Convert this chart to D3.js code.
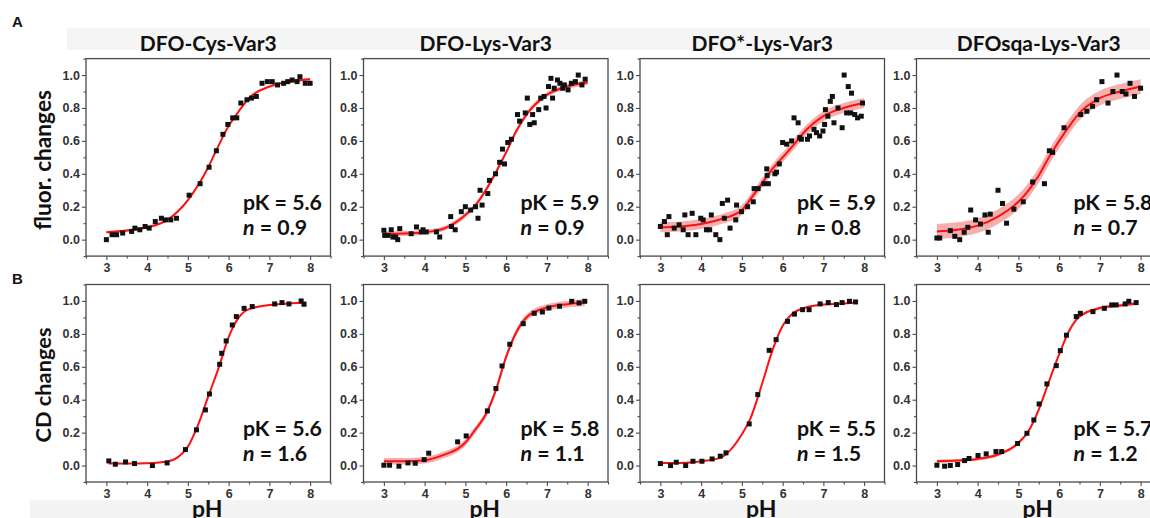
<!DOCTYPE html>
<html>
<head>
<meta charset="utf-8">
<script src="https://cdn.jsdelivr.net/npm/d3@7"></script>
<style>
  html, body { margin: 0; padding: 0; background: #ffffff; }
  svg { display: block; }
</style>
</head>
<body>
<svg id="chart" width="1150" height="518"></svg>
<script>
// ---------------- DATA ----------------
const titles = ["DFO-Cys-Var3", "DFO-Lys-Var3", "DFO*-Lys-Var3", "DFOsqa-Lys-Var3"];
const rowLabels = ["A", "B"];
const yTitles = ["fluor. changes", "CD changes"];
const xTitle = "pH";
const xTicks = [3, 4, 5, 6, 7, 8];
const xMinorTicks = [2.5, 3.5, 4.5, 5.5, 6.5, 7.5, 8.5];
const yTicks = [0.0, 0.2, 0.4, 0.6, 0.8, 1.0];
const yMinorTicks = [-0.1, 0.1, 0.3, 0.5, 0.7, 0.9, 1.1];
const pKLabels = ["5.6", "5.9", "5.9", "5.8", "5.6", "5.8", "5.5", "5.7"];
const nLabels = ["0.9", "0.9", "0.8", "0.7", "1.6", "1.1", "1.5", "1.2"];

// Row A: fluorescence changes
const a1X = [3.0, 3.14, 3.25, 3.4, 3.62, 3.7, 3.82, 3.95, 4.05, 4.2, 4.35, 4.45, 4.58, 4.72, 5.03, 5.3, 5.52, 5.7, 5.86, 5.98, 6.1, 6.2, 6.3, 6.45, 6.56, 6.68, 6.82, 6.95, 7.07, 7.2, 7.35, 7.45, 7.56, 7.68, 7.75, 7.88, 8.0];
const a1Y = [0.0, 0.03, 0.03, 0.04, 0.05, 0.07, 0.06, 0.08, 0.07, 0.11, 0.13, 0.12, 0.12, 0.13, 0.27, 0.34, 0.44, 0.54, 0.64, 0.70, 0.74, 0.74, 0.83, 0.85, 0.86, 0.87, 0.95, 0.96, 0.96, 0.94, 0.95, 0.96, 0.97, 0.96, 0.99, 0.95, 0.95];
const a2X = [3.0, 3.02, 3.1, 3.18, 3.22, 3.29, 3.34, 3.39, 3.67, 3.8, 3.92, 3.96, 4.04, 4.29, 4.37, 4.64, 4.66, 4.75, 4.9, 5.0, 5.13, 5.25, 5.31, 5.36, 5.41, 5.55, 5.59, 5.74, 5.84, 5.91, 5.96, 6.04, 6.13, 6.28, 6.33, 6.47, 6.52, 6.58, 6.65, 6.69, 6.8, 6.85, 6.93, 6.98, 7.04, 7.1, 7.14, 7.18, 7.26, 7.32, 7.39, 7.43, 7.52, 7.6, 7.7, 7.77, 7.86, 7.94];
const a2Y = [0.057, 0.026, 0.026, 0.06, 0.016, 0.016, 0.0, 0.067, 0.036, 0.077, 0.047, 0.06, 0.047, 0.047, 0.016, 0.14, 0.08, 0.06, 0.17, 0.2, 0.18, 0.2, 0.13, 0.30, 0.21, 0.28, 0.36, 0.40, 0.47, 0.55, 0.46, 0.59, 0.61, 0.76, 0.72, 0.77, 0.86, 0.70, 0.76, 0.71, 0.79, 0.86, 0.87, 0.80, 0.93, 0.98, 0.86, 0.92, 0.97, 0.95, 0.92, 0.94, 0.91, 0.95, 0.96, 1.0, 0.94, 0.975];
const a3X = [3.0, 3.1, 3.17, 3.21, 3.34, 3.46, 3.56, 3.6, 3.68, 3.78, 3.87, 3.99, 4.05, 4.13, 4.21, 4.25, 4.36, 4.46, 4.52, 4.57, 4.65, 4.71, 4.85, 4.87, 4.99, 5.14, 5.28, 5.3, 5.4, 5.54, 5.61, 5.62, 5.65, 5.81, 5.85, 5.92, 6.0, 6.1, 6.22, 6.28, 6.38, 6.42, 6.46, 6.61, 6.66, 6.77, 6.83, 6.91, 6.99, 7.03, 7.05, 7.11, 7.17, 7.22, 7.26, 7.36, 7.46, 7.51, 7.57, 7.61, 7.67, 7.69, 7.77, 7.84, 7.93, 7.96];
const a3Y = [0.08, 0.11, 0.03, 0.14, 0.07, 0.09, 0.06, 0.15, 0.03, 0.16, 0.03, 0.13, 0.12, 0.06, 0.06, 0.15, 0.03, 0.0, 0.22, 0.13, 0.24, 0.07, 0.12, 0.21, 0.17, 0.2, 0.23, 0.31, 0.31, 0.34, 0.43, 0.39, 0.34, 0.40, 0.41, 0.46, 0.59, 0.58, 0.6, 0.74, 0.71, 0.62, 0.61, 0.61, 0.63, 0.67, 0.65, 0.63, 0.66, 0.7, 0.79, 0.75, 0.84, 0.87, 0.71, 0.8, 0.68, 1.0, 0.77, 0.93, 0.77, 0.89, 0.76, 0.74, 0.75, 0.83];
const a4X = [3.0, 3.07, 3.33, 3.44, 3.56, 3.67, 3.76, 3.83, 3.95, 4.07, 4.18, 4.26, 4.31, 4.5, 4.61, 4.71, 4.89, 5.12, 5.35, 5.64, 5.76, 5.84, 6.12, 6.53, 6.68, 6.82, 6.92, 7.05, 7.2, 7.32, 7.42, 7.55, 7.64, 7.74, 7.85, 8.0];
const a4Y = [0.01, 0.01, 0.055, 0.02, 0.0, 0.045, 0.075, 0.18, 0.12, 0.095, 0.15, 0.045, 0.155, 0.3, 0.22, 0.1, 0.185, 0.23, 0.35, 0.34, 0.54, 0.53, 0.68, 0.76, 0.78, 0.81, 0.85, 0.96, 0.83, 0.9, 1.0, 0.9, 0.885, 0.95, 0.87, 0.92];

// Row B: CD changes
const b1X = [3.06, 3.22, 3.47, 3.69, 4.13, 4.49, 4.94, 5.21, 5.43, 5.53, 5.78, 5.83, 5.94, 6.09, 6.19, 6.38, 6.58, 7.13, 7.31, 7.48, 7.78, 7.85];
const b1Y = [0.028, 0.008, 0.022, 0.012, 0.0, 0.016, 0.097, 0.217, 0.338, 0.435, 0.615, 0.682, 0.757, 0.854, 0.905, 0.955, 0.966, 0.982, 0.99, 0.982, 1.0, 0.98];
const b2X = [3.0, 3.14, 3.37, 3.59, 3.77, 3.99, 4.1, 4.81, 5.02, 5.54, 5.75, 5.9, 6.09, 6.42, 6.69, 6.89, 7.05, 7.31, 7.61, 7.79, 7.93];
const b2Y = [0.002, 0.002, -0.004, 0.016, 0.014, 0.036, 0.075, 0.144, 0.18, 0.332, 0.468, 0.605, 0.737, 0.862, 0.925, 0.933, 0.957, 0.968, 0.998, 0.988, 0.998];
const b3X = [3.0, 3.25, 3.39, 3.62, 3.8, 4.02, 4.27, 4.47, 4.61, 5.18, 5.39, 5.67, 5.84, 6.12, 6.29, 6.49, 6.65, 6.92, 7.12, 7.32, 7.46, 7.64, 7.79];
const b3Y = [0.012, 0.0, 0.02, 0.0, 0.026, 0.026, 0.04, 0.057, 0.077, 0.253, 0.431, 0.7, 0.765, 0.876, 0.92, 0.947, 0.947, 0.982, 0.99, 0.978, 0.99, 0.998, 0.994];
const b4X = [3.0, 3.19, 3.33, 3.51, 3.68, 3.79, 4.01, 4.21, 4.45, 4.59, 4.98, 5.21, 5.38, 5.51, 5.7, 5.93, 6.03, 6.18, 6.42, 6.52, 6.83, 7.11, 7.29, 7.4, 7.62, 7.71, 7.89];
const b4Y = [0.002, -0.004, 0.0, 0.006, 0.03, 0.043, 0.061, 0.071, 0.085, 0.085, 0.134, 0.196, 0.277, 0.374, 0.496, 0.607, 0.698, 0.792, 0.905, 0.925, 0.935, 0.955, 0.976, 0.976, 0.982, 0.998, 0.99];

// Fitted curves
const fitXA = [3, 3.5, 4, 4.5, 5, 5.25, 5.5, 5.75, 6, 6.25, 6.5, 7, 7.5, 8];
const a1FitY = [0.045, 0.055, 0.075, 0.12, 0.24, 0.33, 0.44, 0.57, 0.69, 0.78, 0.86, 0.93, 0.96, 0.975];
const a2FitY = [0.035, 0.037, 0.045, 0.07, 0.15, 0.21, 0.3, 0.41, 0.53, 0.66, 0.76, 0.88, 0.93, 0.955];
const a3FitY = [0.075, 0.08, 0.095, 0.125, 0.18, 0.26, 0.345, 0.43, 0.5, 0.57, 0.645, 0.75, 0.80, 0.83];
const a4FitY = [0.05, 0.06, 0.085, 0.14, 0.23, 0.3, 0.39, 0.5, 0.6, 0.69, 0.77, 0.86, 0.9, 0.93];
const b1FitX = [3.06, 3.5, 4, 4.5, 5, 5.25, 5.5, 5.75, 6, 6.25, 6.5, 7, 7.5, 7.9];
const b1FitY = [0.012, 0.012, 0.014, 0.024, 0.115, 0.247, 0.42, 0.59, 0.78, 0.9, 0.95, 0.975, 0.985, 0.99];
const b2FitX = [3.0, 3.5, 4, 4.5, 4.8, 5, 5.25, 5.5, 5.75, 6, 6.25, 6.5, 7, 7.5, 7.93];
const b2FitY = [0.026, 0.026, 0.032, 0.068, 0.1, 0.14, 0.22, 0.31, 0.46, 0.66, 0.81, 0.9, 0.96, 0.98, 0.99];
const b3FitX = [3.0, 3.5, 4, 4.5, 4.65, 5, 5.2, 5.5, 5.75, 6, 6.25, 6.5, 7, 7.5, 7.85];
const b3FitY = [0.016, 0.016, 0.026, 0.05, 0.077, 0.19, 0.28, 0.5, 0.7, 0.85, 0.925, 0.955, 0.978, 0.985, 0.99];
const b4FitX = [3.0, 3.5, 4, 4.5, 5, 5.25, 5.5, 5.75, 6, 6.25, 6.5, 7, 7.5, 7.9];
const b4FitY = [0.026, 0.03, 0.04, 0.067, 0.137, 0.21, 0.34, 0.51, 0.675, 0.82, 0.905, 0.957, 0.973, 0.985];
// half-width of the confidence band around each fit
const bandHalf = [0.008, 0.015, 0.03, 0.045, 0.004, 0.02, 0.004, 0.01];

// ---------------- LAYOUT ----------------
const svg = d3.select("#chart");
const colLeft = [86, 363.5, 640, 916.5];
const panelW = 244.5;
const rowTop = [58.6, 284.5];
const panelH = 197.5;
const xDomain = [2.5, 8.5];
const yDomain = [-0.1, 1.1];
const ink = "#4a4a4a";

const panels = [
  {r:0, c:0, x:a1X, y:a1Y, fx:fitXA,  fy:a1FitY},
  {r:0, c:1, x:a2X, y:a2Y, fx:fitXA,  fy:a2FitY},
  {r:0, c:2, x:a3X, y:a3Y, fx:fitXA,  fy:a3FitY},
  {r:0, c:3, x:a4X, y:a4Y, fx:fitXA,  fy:a4FitY},
  {r:1, c:0, x:b1X, y:b1Y, fx:b1FitX, fy:b1FitY},
  {r:1, c:1, x:b2X, y:b2Y, fx:b2FitX, fy:b2FitY},
  {r:1, c:2, x:b3X, y:b3Y, fx:b3FitX, fy:b3FitY},
  {r:1, c:3, x:b4X, y:b4Y, fx:b4FitX, fy:b4FitY}
];

// faint background bands (scan artefacts of the original figure)
svg.append("rect").attr("x", 67).attr("y", 28).attr("width", 1083).attr("height", 22).attr("fill", "#f5f5f5");
svg.append("rect").attr("x", 30).attr("y", 500).attr("width", 1120).attr("height", 18).attr("fill", "#f4f4f4");

const fontTick = "'Liberation Sans', Arial, sans-serif";
const fontBig = "Lato, 'Open Sans', sans-serif";

function fitWidth(sel, target) {
  const fs = parseFloat(sel.attr("font-size"));
  const w = sel.node().getComputedTextLength();
  if (w > 0) sel.attr("font-size", (fs * target / w).toFixed(2));
  return sel.attr("font-size");
}

let titleSize = null;

panels.forEach((p, i) => {
  const left = colLeft[p.c], top = rowTop[p.r];
  const x = d3.scaleLinear().domain(xDomain).range([left, left + panelW]);
  const y = d3.scaleLinear().domain(yDomain).range([top + panelH, top]);
  const g = svg.append("g");

  // axes: major + minor ticks
  const xAxis = d3.axisBottom(x).tickValues(xTicks).tickSize(4).tickPadding(3).tickFormat(d3.format("d"));
  const xMinor = d3.axisBottom(x).tickValues(xMinorTicks).tickSize(2.5).tickFormat("");
  const yAxis = d3.axisLeft(y).tickValues(yTicks).tickSize(4).tickPadding(2).tickFormat(d3.format(".1f"));
  const yMinor = d3.axisLeft(y).tickValues(yMinorTicks).tickSize(2.5).tickFormat("");
  [[xAxis, "x"], [xMinor, "x"], [yAxis, "y"], [yMinor, "y"]].forEach(([ax, t]) => {
    const a = g.append("g")
      .attr("transform", t === "x" ? `translate(0,${top + panelH})` : `translate(${left},0)`)
      .call(ax);
    a.select(".domain").remove();
    a.selectAll(".tick line").attr("stroke", ink).attr("stroke-width", 1.1);
    a.selectAll(".tick text").attr("fill", "#333").attr("font-family", fontTick)
      .attr("font-weight", "bold").attr("font-size", 12.5);
  });

  // confidence band + fit line
  const fitPts = p.fx.map((v, k) => [v, p.fy[k]]);
  const h = bandHalf[i];
  const area = d3.area().curve(d3.curveMonotoneX)
    .x(d => x(d[0])).y0(d => y(d[1] - h)).y1(d => y(d[1] + h));
  g.append("path").datum(fitPts).attr("d", area).attr("fill", "#f07a7a").attr("fill-opacity", 0.6);
  const line = d3.line().curve(d3.curveMonotoneX).x(d => x(d[0])).y(d => y(d[1]));
  g.append("path").datum(fitPts).attr("d", line).attr("fill", "none")
    .attr("stroke", "#ff1010").attr("stroke-width", 2);

  // data squares
  const s = 5;
  g.selectAll("rect.pt").data(p.x.map((v, k) => [v, p.y[k]])).join("rect")
    .attr("class", "pt")
    .attr("x", d => x(d[0]) - s / 2).attr("y", d => y(d[1]) - s / 2)
    .attr("width", s).attr("height", s).attr("fill", "#111");

  // frame
  g.append("rect").attr("x", left).attr("y", top).attr("width", panelW).attr("height", panelH)
    .attr("fill", "none").attr("stroke", ink).attr("stroke-width", 1.3);

  // annotations
  const tx = left + 157;
  const pk = g.append("text").attr("x", tx).attr("y", y(0.225)).attr("dy", "0.36em")
    .attr("font-family", fontBig).attr("font-weight", "bold").attr("font-size", 22).attr("fill", "#111")
    .text("pK = " + pKLabels[i]);
  const fsAnn = fitWidth(pk, 79);
  const nt = g.append("text").attr("x", tx).attr("y", y(0.075)).attr("dy", "0.36em")
    .attr("font-family", fontBig).attr("font-weight", "bold").attr("font-size", fsAnn).attr("fill", "#111");
  nt.append("tspan").attr("font-style", "italic").text("n");
  nt.append("tspan").text(" = " + nLabels[i]);

  // column titles / x titles
  if (p.r === 0) {
    const t = svg.append("text").attr("x", left + panelW / 2).attr("y", 43.5).attr("dy", "0.35em")
      .attr("text-anchor", "middle").attr("font-family", fontBig).attr("font-weight", "bold")
      .attr("font-size", 19).attr("fill", "#111").text(titles[p.c]);
    if (titleSize === null) titleSize = fitWidth(t, 137);
    else t.attr("font-size", titleSize);
  } else {
    svg.append("text").attr("x", left + panelW / 2 - 1).attr("y", 517)
      .attr("text-anchor", "middle").attr("font-family", fontBig).attr("font-weight", "bold")
      .attr("font-size", 23).attr("fill", "#111").text(xTitle);
  }
});

// row labels and y titles
const yTitleLen = [140, 115];
rowLabels.forEach((lab, r) => {
  svg.append("text").attr("x", 12).attr("y", r === 0 ? 27 : 284)
    .attr("font-family", fontTick).attr("font-weight", "bold").attr("font-size", 15)
    .attr("fill", "#111").text(lab);
  const cy = r === 0 ? 160 : 385;
  const t = svg.append("text").attr("transform", `translate(43,${cy}) rotate(-90)`)
    .attr("text-anchor", "middle").attr("dy", "0.35em")
    .attr("font-family", fontBig).attr("font-weight", "bold").attr("font-size", 22)
    .attr("fill", "#111").text(yTitles[r]);
  fitWidth(t, yTitleLen[r]);
});
</script>
</body>
</html>
